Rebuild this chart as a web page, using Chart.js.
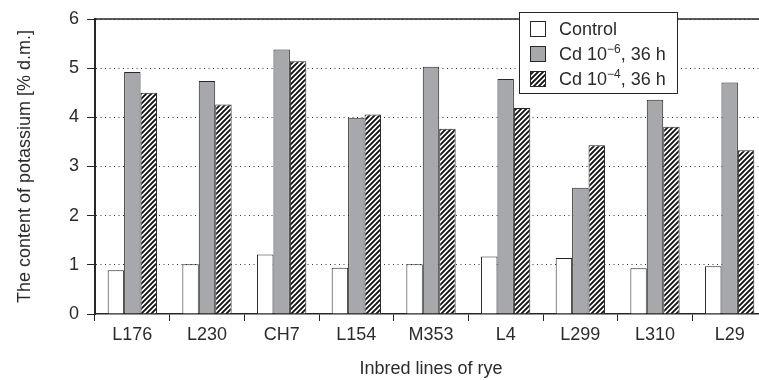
<!DOCTYPE html>
<html>
<head>
<meta charset="utf-8">
<script src="https://cdn.jsdelivr.net/npm/chart.js@4.4.1/dist/chart.umd.min.js"></script>
<style>
  html, body { margin: 0; padding: 0; background: #fff; overflow: hidden; }
  #wrap { position: relative; width: 767px; height: 380px; }
</style>
</head>
<body>
<div id="wrap"><canvas id="chart"></canvas></div>
<script>
// Potassium content in inbred rye lines (% d.m.)
const lines = ['L176', 'L230', 'CH7', 'L154', 'M353', 'L4', 'L299', 'L310', 'L29'];
const control = [0.89, 1.01, 1.21, 0.94, 1.01, 1.17, 1.14, 0.93, 0.97];
const cd6 = [4.92, 4.74, 5.38, 3.99, 5.03, 4.78, 2.57, 4.36, 4.71];
const cd4 = [4.50, 4.26, 5.14, 4.06, 3.77, 4.19, 3.43, 3.81, 3.33];
const yTicks = [0, 1, 2, 3, 4, 5, 6];

const FONT = '"Liberation Sans", Arial, sans-serif';
const TXT = '#2b2b2b';
const EDGE = '#262626';
const GRAY = '#a7a8ab';

// diagonal hatch "////"
function makeHatch() {
  const s = 5;
  const c = document.createElement('canvas');
  c.width = s; c.height = s;
  const g = c.getContext('2d');
  g.fillStyle = '#fff';
  g.fillRect(0, 0, s, s);
  g.strokeStyle = '#111';
  g.lineWidth = 1.9;
  g.beginPath();
  g.moveTo(0, s); g.lineTo(s, 0);
  g.moveTo(-1, 1); g.lineTo(1, -1);
  g.moveTo(s - 1, s + 1); g.lineTo(s + 1, s - 1);
  g.stroke();
  return g.createPattern(c, 'repeat');
}
const hatch = makeHatch();

// solid frame line on top of plot
const topLine = {
  id: 'topLine',
  afterDatasetsDraw(chart) {
    const { ctx, chartArea: a } = chart;
    ctx.save();
    ctx.strokeStyle = EDGE;
    ctx.lineWidth = 1.5;
    ctx.beginPath();
    ctx.moveTo(a.left, a.top);
    ctx.lineTo(a.right, a.top);
    ctx.stroke();
    ctx.restore();
  }
};

// boxed legend with superscripts
const boxLegend = {
  id: 'boxLegend',
  afterDraw(chart) {
    const ctx = chart.ctx;
    const x0 = 519.5, y0 = 12.5, w = 158, h = 81;
    ctx.save();
    ctx.fillStyle = '#fff';
    ctx.fillRect(x0, y0, w, h);
    ctx.strokeStyle = EDGE;
    ctx.lineWidth = 1;
    ctx.strokeRect(x0, y0, w, h);

    const items = [
      { fill: '#fff', parts: [['Control', 0]] },
      { fill: GRAY, parts: [['Cd 10', 0], ['\u22126', 1], [', 36 h', 0]] },
      { fill: hatch, parts: [['Cd 10', 0], ['\u22124', 1], [', 36 h', 0]] }
    ];
    items.forEach((it, i) => {
      const sy = 21 + i * 25;
      ctx.fillStyle = it.fill;
      ctx.fillRect(530, sy, 15.5, 15.5);
      ctx.strokeStyle = EDGE;
      ctx.strokeRect(530.5, sy + 0.5, 15, 15);
      let tx = 559;
      const base = 35 + i * 25;
      ctx.fillStyle = TXT;
      ctx.textBaseline = 'alphabetic';
      ctx.textAlign = 'left';
      it.parts.forEach(([t, sup]) => {
        ctx.font = (sup ? '12px ' : '18px ') + FONT;
        ctx.fillText(t, tx, sup ? base - 7.5 : base);
        tx += ctx.measureText(t).width;
      });
    });
    ctx.restore();
  }
};

new Chart(document.getElementById('chart'), {
  type: 'bar',
  data: {
    labels: lines,
    datasets: [
      { label: 'Control', data: control, backgroundColor: '#fff', borderColor: EDGE, borderWidth: 1 },
      { label: 'Cd 10\u207B\u2076, 36 h', data: cd6, backgroundColor: GRAY, borderColor: EDGE, borderWidth: 1 },
      { label: 'Cd 10\u207B\u2074, 36 h', data: cd4, backgroundColor: hatch, borderColor: EDGE, borderWidth: 1 }
    ]
  },
  options: {
    responsive: true,
    maintainAspectRatio: false,
    animation: false,
    layout: { padding: { top: 19, left: 0, right: 0, bottom: 0 } },
    datasets: { bar: { categoryPercentage: 0.66, barPercentage: 1 } },
    plugins: { legend: { display: false }, tooltip: { enabled: false } },
    scales: {
      x: {
        grid: { offset: true, drawOnChartArea: false, drawTicks: true, tickLength: 7, tickColor: EDGE, tickWidth: 1 },
        border: { color: EDGE, width: 1.5 },
        ticks: { color: TXT, font: { family: FONT, size: 18 }, padding: 3, autoSkip: false, maxRotation: 0 },
        title: { display: true, text: 'Inbred lines of rye', color: TXT, font: { family: FONT, size: 18 }, padding: 0 },
        afterFit: s => { s.height = 66; }
      },
      y: {
        min: 0, max: 6,
        afterBuildTicks: s => { s.ticks = yTicks.map(v => ({ value: v })); },
        ticks: { color: TXT, font: { family: FONT, size: 18 }, padding: 8 },
        grid: {
          color: c => (c.tick && c.tick.value === 0) ? 'rgba(0,0,0,0)' : '#333',
          lineWidth: 1, drawTicks: true, tickLength: 8, tickColor: EDGE, tickWidth: 1, tickBorderDash: []
        },
        border: { color: EDGE, width: 2, dash: [1, 3.5] },
        title: { display: true, text: 'The content of potassium [% d.m.]', color: TXT, font: { family: FONT, size: 18 }, padding: { top: 14, bottom: 0 } },
        afterFit: s => { s.width = 95; }
      }
    }
  },
  plugins: [topLine, boxLegend]
});
</script>
</body>
</html>
